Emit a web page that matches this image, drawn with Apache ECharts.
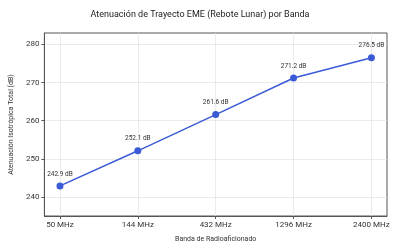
<!DOCTYPE html>
<html>
<head>
<meta charset="utf-8">
<script src="https://cdn.jsdelivr.net/npm/echarts@6/dist/echarts.min.js"></script>
<style>
  html, body { margin: 0; padding: 0; background: #fff; }
  #chart { width: 400px; height: 250px; }
</style>
</head>
<body>
<div id="chart"></div>
<script>
const bands = ['50 MHz', '144 MHz', '432 MHz', '1296 MHz', '2400 MHz'];
const pathLoss = [242.9, 252.1, 261.6, 271.2, 276.5];
const yTicks = [240, 250, 260, 270, 280];

const chart = echarts.init(document.getElementById('chart'), null, { renderer: 'canvas' });

const font = 'Roboto, "Noto Sans", sans-serif';
const points = pathLoss.map((v, i) => [i, v]);

const option = {
  backgroundColor: '#ffffff',
  animation: false,
  title: {
    text: 'Atenuación de Trayecto EME (Rebote Lunar) por Banda',
    left: 'center',
    top: 5,
    textStyle: { fontFamily: font, fontSize: 9, fontWeight: 'normal', color: '#222' }
  },
  grid: {
    left: 40, right: 13, top: 33, bottom: 34,
    show: true, borderColor: '#555', borderWidth: 1
  },
  xAxis: {
    type: 'value',
    min: -0.2,
    max: 4.2,
    name: 'Banda de Radioaficionado',
    nameLocation: 'middle',
    nameGap: 20,
    nameTextStyle: { fontFamily: font, fontSize: 7, color: '#333' },
    axisLine: { onZero: false, lineStyle: { color: '#555' } },
    axisTick: { show: true, length: 3, lineStyle: { color: '#555' }, customValues: [0, 1, 2, 3, 4] },
    axisLabel: {
      fontFamily: font, fontSize: 8, color: '#333', margin: 5,
      customValues: [0, 1, 2, 3, 4],
      formatter: v => bands[Math.round(v)]
    },
    splitLine: { show: true, lineStyle: { color: '#e6e6e6', width: 0.8 } }
  },
  yAxis: {
    type: 'value',
    min: 235,
    max: 283,
    name: 'Atenuación Isotrópica Total (dB)',
    nameLocation: 'middle',
    nameGap: 27,
    nameTextStyle: { fontFamily: font, fontSize: 7, color: '#333' },
    axisLine: { show: true, onZero: false, lineStyle: { color: '#555' } },
    axisTick: { show: true, length: 3, lineStyle: { color: '#555' }, customValues: yTicks },
    axisLabel: { fontFamily: font, fontSize: 8, color: '#333', margin: 5, customValues: yTicks },
    splitLine: { show: true, lineStyle: { color: '#e6e6e6', width: 0.8 } }
  },
  series: [{
    type: 'line',
    data: points,
    symbol: 'circle',
    symbolSize: 7,
    lineStyle: { color: '#3b5bd6', width: 1.5 },
    itemStyle: { color: '#3b5bd6' },
    label: {
      show: true,
      position: 'top',
      distance: 5,
      fontFamily: font,
      fontSize: 6.5,
      color: '#333',
      formatter: p => p.value[1].toFixed(1) + ' dB'
    }
  }]
};

chart.setOption(option);
</script>
</body>
</html>
